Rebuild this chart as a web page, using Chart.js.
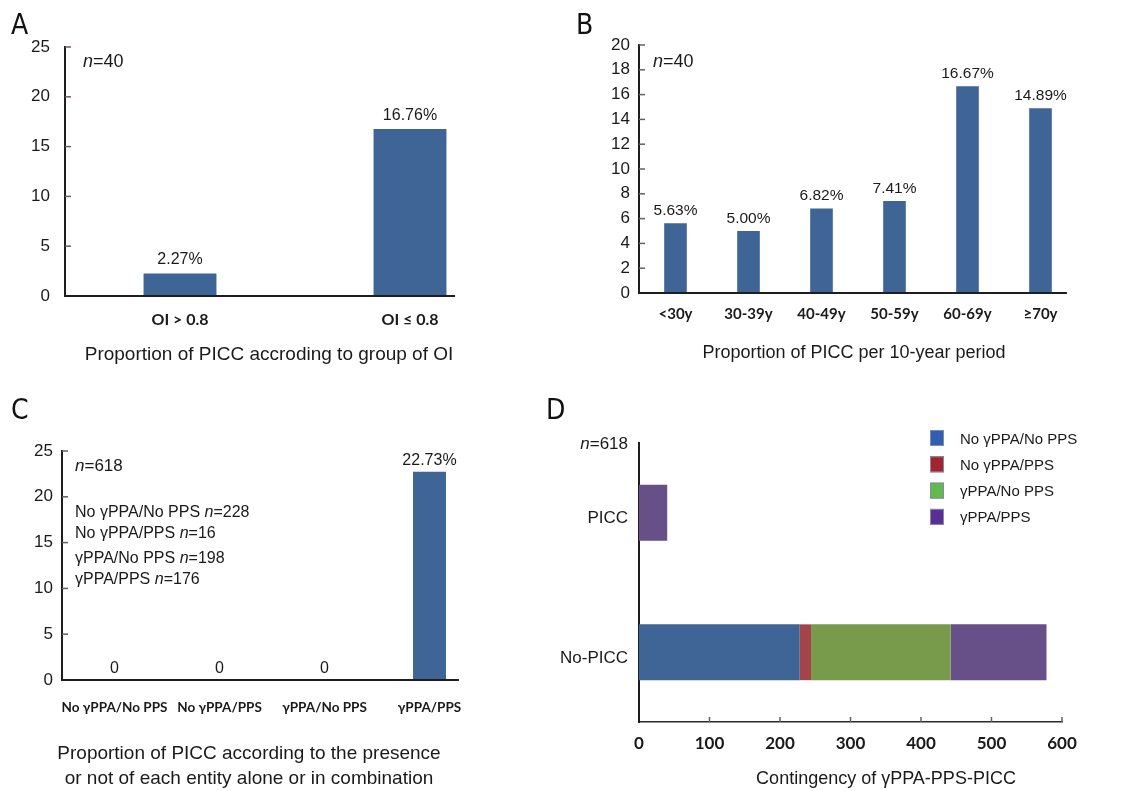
<!DOCTYPE html>
<html>
<head>
<meta charset="utf-8">
<script src="https://cdn.jsdelivr.net/npm/chart.js@4.4.1/dist/chart.umd.min.js"></script>
<style>
  html, body { margin: 0; padding: 0; background: #fff; }
  #wrap { position: relative; width: 1130px; height: 791px; overflow: hidden; }
  #wrap canvas { position: absolute; left: 0; top: 0; }
  .tag { position: absolute; font-family: "Liberation Sans Narrow", "DejaVu Sans Condensed", sans-serif;
         font-size: 28px; line-height: 1; color: #111; }
</style>
</head>
<body>
<div id="wrap">
  <canvas id="cA" width="1130" height="791"></canvas>
  <canvas id="cB" width="1130" height="791"></canvas>
  <canvas id="cC" width="1130" height="791"></canvas>
  <canvas id="cD" width="1130" height="791"></canvas>
  <div class="tag" style="left:11px;top:11px">A</div>
  <div class="tag" style="left:576px;top:11px">B</div>
  <div class="tag" style="left:11px;top:396px">C</div>
  <div class="tag" style="left:546px;top:396px">D</div>
</div>
<script>
// data
const oiLabels = ["OI > 0.8", "OI \u2264 0.8"];
const oiValues = [2.27, 16.76];

const ageLabels = ["<30y", "30-39y", "40-49y", "50-59y", "60-69y", "\u226570y"];
const ageValues = [5.63, 5.00, 6.82, 7.41, 16.67, 14.89];

const comboLabels = ["No \u03b3PPA/No PPS", "No \u03b3PPA/PPS", "\u03b3PPA/No PPS", "\u03b3PPA/PPS"];
const comboValues = [0, 0, 0, 22.73];
const comboCounts = [228, 16, 198, 176];

const groupLabels = ["PICC", "No-PICC"];
const noGppaNoPps = [0, 228];
const noGppaPps = [0, 16];
const gppaNoPps = [0, 198];
const gppaPps = [40, 136];

const TEXT = "#1a1a1a";
const BAR = "#3f6597";
const SANS = '"Liberation Sans", Arial, sans-serif';
const LATO = 'Lato, "Open Sans", sans-serif';
const W = 1130, H = 791;
const Y_W = 60, X_H = 40;

Chart.defaults.font.family = SANS;
Chart.defaults.color = TEXT;

function fitY(scale, w) {
  scale.width = w;
  scale.paddingTop = 0;
  scale.paddingBottom = 0;
}
function fitX(scale) {
  scale.height = X_H;
  scale.paddingLeft = 0;
  scale.paddingRight = 0;
}

// write text made of plain and italic parts
function mixed(ctx, parts, x, y, size, align) {
  ctx.save();
  ctx.fillStyle = TEXT;
  ctx.textBaseline = "alphabetic";
  ctx.textAlign = "left";
  let total = 0;
  parts.forEach(p => {
    ctx.font = (p[1] ? "italic " : "") + size + "px " + SANS;
    total += ctx.measureText(p[0]).width;
  });
  let cx = align === "right" ? x - total : align === "center" ? x - total / 2 : x;
  parts.forEach(p => {
    ctx.font = (p[1] ? "italic " : "") + size + "px " + SANS;
    ctx.fillText(p[0], cx, y);
    cx += ctx.measureText(p[0]).width;
  });
  ctx.restore();
}

function innerTicks(chart, id, len) {
  const sc = chart.scales[id], a = chart.chartArea, ctx = chart.ctx;
  ctx.save();
  ctx.strokeStyle = "#6e5c57";
  ctx.lineWidth = 1.5;
  sc.ticks.forEach((t, i) => {
    if (t.value === 0) return;
    const p = sc.getPixelForTick(i);
    ctx.beginPath();
    if (id === "y") { ctx.moveTo(a.left, p); ctx.lineTo(a.left + len, p); }
    else { ctx.moveTo(p, a.bottom); ctx.lineTo(p, a.bottom - len); }
    ctx.stroke();
  });
  ctx.restore();
}

function fmtPct(v) { return v === 0 ? "0" : v.toFixed(2) + "%"; }

function barPanel(id, labels, values, box, o) {
  const deco = {
    id: "deco",
    afterDraw(chart) {
      const ctx = chart.ctx, a = chart.chartArea;
      innerTicks(chart, "y", 6);
      // x axis line, shorter than the category band
      ctx.save();
      ctx.strokeStyle = "#1e1e1e";
      ctx.lineWidth = 2;
      ctx.beginPath();
      ctx.moveTo(a.left - 1, a.bottom);
      ctx.lineTo(a.left + a.width * o.axisEnd, a.bottom);
      ctx.stroke();
      // value labels
      ctx.font = o.valSize + "px " + SANS;
      ctx.fillStyle = TEXT;
      ctx.textAlign = "center";
      ctx.textBaseline = "alphabetic";
      chart.getDatasetMeta(0).data.forEach((bar, i) => {
        ctx.fillText(fmtPct(values[i]), bar.x, bar.y - o.valGap);
      });
      ctx.restore();
      o.extra(chart, ctx, a);
    }
  };
  return new Chart(document.getElementById(id), {
    type: "bar",
    data: {
      labels: labels,
      datasets: [{ data: values, backgroundColor: BAR, borderWidth: 0,
                   barPercentage: o.barPct, categoryPercentage: 1 }]
    },
    options: {
      responsive: false,
      animation: false,
      layout: { padding: { left: box.left - Y_W, top: box.top, right: W - box.right, bottom: H - box.bottom - X_H } },
      plugins: { legend: { display: false }, tooltip: { enabled: false } },
      scales: {
        x: {
          grid: { display: false, drawTicks: false },
          border: { display: false },
          ticks: { font: { family: LATO, size: o.xSize, weight: "bold" },
                   color: TEXT, padding: o.xPad, maxRotation: 0, autoSkip: false },
          afterFit: fitX
        },
        y: {
          min: 0, max: o.max,
          grid: { display: false, drawTicks: false },
          border: { display: true, color: "#1e1e1e", width: 2 },
          ticks: { stepSize: o.step, font: { size: 17 }, color: TEXT, padding: o.yPad },
          afterFit: s => fitY(s, Y_W)
        }
      }
    },
    plugins: [deco]
  });
}

// A
barPanel("cA", oiLabels, oiValues, { left: 65, top: 47, right: 525, bottom: 296 }, {
  max: 25, step: 5, barPct: 0.317, axisEnd: 0.848, valSize: 16, valGap: 9, xSize: 16, xPad: 14, yPad: 15,
  extra(chart, ctx, a) {
    mixed(ctx, [["n", true], ["=40", false]], a.left + 18, a.top + 20, 18, "left");
    mixed(ctx, [["Proportion of PICC accroding to group of OI", false]], 269, 360, 19, "center");
  }
});

// B
barPanel("cB", ageLabels, ageValues, { left: 639, top: 45, right: 1077, bottom: 293 }, {
  max: 20, step: 2, barPct: 0.31, axisEnd: 0.977, valSize: 15.5, valGap: 8, xSize: 15, xPad: 12, yPad: 9,
  extra(chart, ctx, a) {
    mixed(ctx, [["n", true], ["=40", false]], a.left + 14, a.top + 22, 18, "left");
    mixed(ctx, [["Proportion of PICC per 10-year period", false]], 854, 358, 18, "center");
  }
});

// C
barPanel("cC", comboLabels, comboValues, { left: 62, top: 451, right: 482, bottom: 680 }, {
  max: 25, step: 5, barPct: 0.314, axisEnd: 0.945, valSize: 16, valGap: 7, xSize: 13.5, xPad: 20, yPad: 9,
  extra(chart, ctx, a) {
    mixed(ctx, [["n", true], ["=618", false]], a.left + 13, a.top + 20, 17, "left");
    const base = [517, 538, 563, 584];
    comboLabels.forEach((l, i) => {
      mixed(ctx, [[l + " ", false], ["n", true], ["=" + comboCounts[i], false]], a.left + 13, base[i], 16, "left");
    });
    mixed(ctx, [["Proportion of PICC according to the presence", false]], 249, 759, 19, "center");
    mixed(ctx, [["or not of each entity alone or in combination", false]], 249, 784, 19, "center");
  }
});

// D
const seriesNames = comboLabels;
const barColors = ["#3f6597", "#a3444b", "#779a4b", "#674f87"];
const legendColors = ["#2f5eb3", "#a3242b", "#63b94b", "#5a2e93"];
const dBox = { left: 639, top: 443, right: 1062, bottom: 722 };
const DY_W = 100;

new Chart(document.getElementById("cD"), {
  type: "bar",
  data: {
    labels: groupLabels,
    datasets: [noGppaNoPps, noGppaPps, gppaNoPps, gppaPps].map((d, i) => ({
      label: seriesNames[i], data: d, backgroundColor: barColors[i], borderWidth: 0,
      barPercentage: 0.4, categoryPercentage: 1
    }))
  },
  options: {
    indexAxis: "y",
    responsive: false,
    animation: false,
    layout: { padding: { left: dBox.left - DY_W, top: dBox.top, right: W - dBox.right, bottom: H - dBox.bottom - X_H } },
    plugins: { legend: { display: false }, tooltip: { enabled: false } },
    scales: {
      x: {
        stacked: true, min: 0, max: 600,
        grid: { display: false, drawTicks: false },
        border: { display: true, color: "#2a2a2a", width: 1.5 },
        ticks: { stepSize: 100, font: { family: LATO, size: 17, weight: "bold" },
                 color: TEXT, padding: 11, maxRotation: 0 },
        afterFit: fitX
      },
      y: {
        stacked: true,
        grid: { display: false, drawTicks: false },
        border: { display: true, color: "#1e1e1e", width: 2 },
        ticks: { font: { size: 17 }, color: TEXT, padding: 11, labelOffset: 6 },
        afterFit: s => fitY(s, DY_W)
      }
    }
  },
  plugins: [{
    id: "decoD",
    afterDraw(chart) {
      const ctx = chart.ctx, a = chart.chartArea;
      innerTicks(chart, "x", 5);
      mixed(ctx, [["n", true], ["=618", false]], a.left - 11, a.top + 6, 17, "right");
      ctx.save();
      seriesNames.forEach((name, i) => {
        const cy = 438 + i * 26.3;
        ctx.fillStyle = legendColors[i];
        ctx.fillRect(930, cy - 8, 14, 16);
        ctx.strokeStyle = "#7f8bae";
        ctx.lineWidth = 1;
        ctx.strokeRect(930.5, cy - 7.5, 13, 15);
        mixed(ctx, [[name, false]], 960, cy + 5.5, 15, "left");
      });
      ctx.restore();
      mixed(ctx, [["Contingency of \u03b3PPA-PPS-PICC", false]], 886, 784, 18, "center");
    }
  }]
});
</script>
</body>
</html>
